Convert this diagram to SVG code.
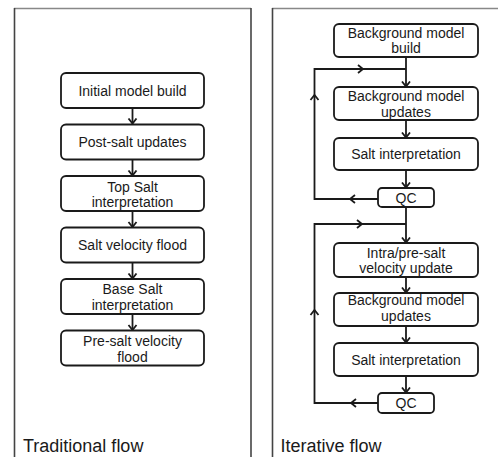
<svg xmlns="http://www.w3.org/2000/svg" width="498" height="457" viewBox="0 0 498 457">
<defs>
<style>
.box{fill:#fff;stroke:#1a1a1a;stroke-width:1.8}
.t{font-family:"Liberation Sans",Arial,sans-serif;font-size:14px;fill:#1a1a1a;text-anchor:middle}
.cap{font-family:"Liberation Sans",Arial,sans-serif;font-size:18px;fill:#1a1a1a}
.ln{fill:none;stroke:#1a1a1a;stroke-width:1.8}
.hd{fill:none;stroke:#1a1a1a;stroke-width:1.8;stroke-linejoin:miter}
.side{stroke:#444;stroke-width:1.6}
.top{stroke:#888;stroke-width:1.6}
</style>
<marker id="ah" markerUnits="userSpaceOnUse" markerWidth="12" markerHeight="12" viewBox="-6 -6 12 12" refX="0" refY="0" orient="auto">
<path d="M-5,-4 L0,0 L-5,4" fill="none" stroke="#1a1a1a" stroke-width="1.8"/>
</marker>
</defs>
<g id="frames">
<line class="top" x1="14" y1="8.5" x2="251" y2="8.5"/>
<line class="side" x1="14.5" y1="8" x2="14.5" y2="457"/>
<line class="side" x1="251" y1="8" x2="251" y2="457"/>
<line class="top" x1="272" y1="8.5" x2="498" y2="8.5"/>
<line class="side" x1="272.5" y1="8" x2="272.5" y2="457"/>
</g>
<g id="connectors">
<line class="ln" x1="132.5" y1="108" x2="132.5" y2="123.5" marker-end="url(#ah)"/>
<line class="ln" x1="132.5" y1="159.5" x2="132.5" y2="175.5" marker-end="url(#ah)"/>
<line class="ln" x1="132.5" y1="211" x2="132.5" y2="227" marker-end="url(#ah)"/>
<line class="ln" x1="132.5" y1="262.5" x2="132.5" y2="278.5" marker-end="url(#ah)"/>
<line class="ln" x1="132.5" y1="314" x2="132.5" y2="330" marker-end="url(#ah)"/>
<line class="ln" x1="406" y1="57" x2="406" y2="86.5" marker-end="url(#ah)"/>
<line class="ln" x1="406" y1="120" x2="406" y2="137.5" marker-end="url(#ah)"/>
<line class="ln" x1="406" y1="170" x2="406" y2="187.5" marker-end="url(#ah)"/>
<line class="ln" x1="406" y1="207" x2="406" y2="242.5" marker-end="url(#ah)"/>
<line class="ln" x1="406" y1="277" x2="406" y2="292.5" marker-end="url(#ah)"/>
<line class="ln" x1="406" y1="326" x2="406" y2="342.5" marker-end="url(#ah)"/>
<line class="ln" x1="406" y1="376" x2="406" y2="392.5" marker-end="url(#ah)"/>
<path class="ln" d="M378,199 L314.5,199 L314.5,69 L406,69"/>
<path class="hd" d="M355,195 L350,199 L355,203"/>
<path class="hd" d="M310.5,100 L314.5,95 L318.5,100"/>
<path class="hd" d="M358,65 L363,69 L358,73"/>
<path class="ln" d="M378,403 L314.5,403 L314.5,224 L406,224"/>
<path class="hd" d="M356,399 L351,403 L356,407"/>
<path class="hd" d="M310.5,315 L314.5,310 L318.5,315"/>
<path class="hd" d="M357,220 L362,224 L357,228"/>
</g>
<g id="n1"><rect class="box" x="61" y="73" width="143" height="35" rx="5"/><text class="t" x="132.5" y="95.5">Initial model build</text></g>
<g id="n2"><rect class="box" x="61" y="124.5" width="143" height="35" rx="5"/><text class="t" x="132.5" y="147">Post-salt updates</text></g>
<g id="n3"><rect class="box" x="61" y="176" width="143" height="35" rx="5"/><text class="t" x="132.5" y="191.5">Top Salt</text><text class="t" x="132.5" y="207">interpretation</text></g>
<g id="n4"><rect class="box" x="61" y="227.5" width="143" height="35" rx="5"/><text class="t" x="132.5" y="250">Salt velocity flood</text></g>
<g id="n5"><rect class="box" x="61" y="279" width="143" height="35" rx="5"/><text class="t" x="132.5" y="293.5">Base Salt</text><text class="t" x="132.5" y="309.5">interpretation</text></g>
<g id="n6"><rect class="box" x="61" y="330.5" width="143" height="35" rx="5"/><text class="t" x="132.5" y="345.5">Pre-salt velocity</text><text class="t" x="132.5" y="361.5">flood</text></g>
<g id="r1"><rect class="box" x="334" y="24" width="144" height="33" rx="5"/><text class="t" x="406" y="37.5">Background model</text><text class="t" x="406" y="53">build</text></g>
<g id="r2"><rect class="box" x="334" y="87" width="144" height="33" rx="5"/><text class="t" x="406" y="101">Background model</text><text class="t" x="406" y="116.5">updates</text></g>
<g id="r3"><rect class="box" x="334" y="138" width="144" height="32" rx="5"/><text class="t" x="406" y="159">Salt interpretation</text></g>
<g id="r4"><rect class="box" x="378" y="188" width="56" height="19" rx="4"/><text class="t" x="406" y="202.5">QC</text></g>
<g id="r5"><rect class="box" x="334" y="243" width="144" height="34" rx="5"/><text class="t" x="406" y="257.5">Intra/pre-salt</text><text class="t" x="406" y="273">velocity update</text></g>
<g id="r6"><rect class="box" x="334" y="293" width="144" height="33" rx="5"/><text class="t" x="406" y="305">Background model</text><text class="t" x="406" y="320.5">updates</text></g>
<g id="r7"><rect class="box" x="334" y="343" width="144" height="33" rx="5"/><text class="t" x="406" y="364.5">Salt interpretation</text></g>
<g id="r8"><rect class="box" x="378" y="393" width="56" height="20" rx="4"/><text class="t" x="406" y="408">QC</text></g>
<g id="labels">
<text class="cap" x="23" y="452">Traditional flow</text>
<text class="cap" x="280.5" y="452">Iterative flow</text>
</g>
</svg>
